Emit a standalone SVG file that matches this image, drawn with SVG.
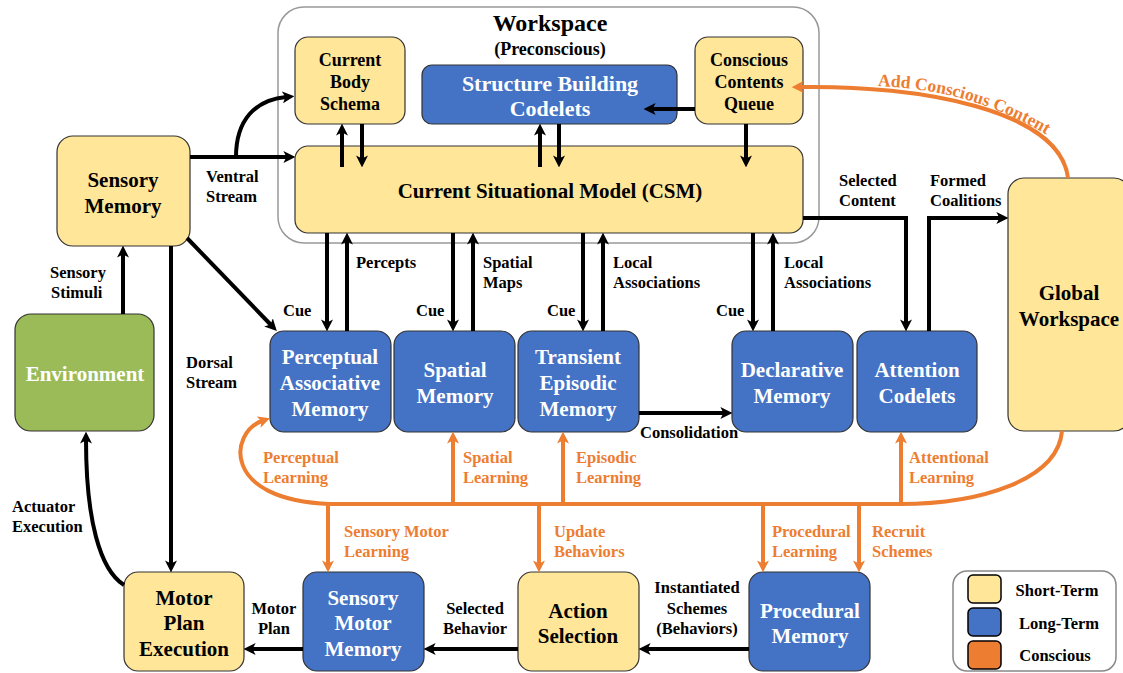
<svg xmlns="http://www.w3.org/2000/svg" width="1123" height="673" viewBox="0 0 1123 673">
<style>
.st{fill:#FFE699;stroke:#333;stroke-width:1.2}
.lt{fill:#4472C4;stroke:#333;stroke-width:1.2}
.en{fill:#9BBB59;stroke:#333;stroke-width:1.2}
.t{font-family:"Liberation Serif",serif;font-weight:bold;text-anchor:middle}
.nb{font-size:21px;fill:#000}
.nw{font-size:21px;fill:#fff}
.ns{font-size:18px;fill:#000}
.lb{font-family:"Liberation Serif",serif;font-weight:bold;font-size:16.5px;fill:#000}
.lo{font-family:"Liberation Serif",serif;font-weight:bold;font-size:16.5px;fill:#ED7D31}
.c{fill:none;stroke:#000;stroke-width:4;marker-end:url(#ab)}
.o{fill:none;stroke:#ED7D31;stroke-width:4;marker-end:url(#ao)}
</style>
<defs>
<marker id="ab" viewBox="0 0 10 10" refX="3" refY="5" markerWidth="12" markerHeight="12" markerUnits="userSpaceOnUse" orient="auto"><path d="M0,0 L10,5 L0,10 L2.5,5 z" fill="#000"/></marker>
<marker id="ao" viewBox="0 0 10 10" refX="3" refY="5" markerWidth="12" markerHeight="12" markerUnits="userSpaceOnUse" orient="auto"><path d="M0,0 L10,5 L0,10 L2.5,5 z" fill="#ED7D31"/></marker>
</defs>
<rect width="1123" height="673" fill="#fff"/>

<g id="workspace">
<rect x="278" y="7" width="541" height="236" rx="26" fill="none" stroke="#999" stroke-width="1.5"/>
<text class="t" x="550" y="31" font-size="24">Workspace</text>
<text class="t" x="550" y="55" font-size="18">(Preconscious)</text>
</g>

<g id="current-body-schema">
<rect class="st" x="295" y="37" width="110" height="87" rx="13"/>
<text class="t ns" x="350" y="66">Current</text>
<text class="t ns" x="350" y="88">Body</text>
<text class="t ns" x="350" y="110">Schema</text>
</g>
<g id="structure-building-codelets">
<rect class="lt" x="422" y="65" width="255" height="59" rx="10"/>
<text class="t" x="550" y="91" font-size="22" fill="#fff">Structure Building</text>
<text class="t" x="550" y="116" font-size="22" fill="#fff">Codelets</text>
</g>
<g id="conscious-contents-queue">
<rect class="st" x="695" y="37" width="108" height="87" rx="13"/>
<text class="t ns" x="749" y="66">Conscious</text>
<text class="t ns" x="749" y="88">Contents</text>
<text class="t ns" x="749" y="110">Queue</text>
</g>
<g id="csm">
<rect class="st" x="295" y="146" width="508" height="87" rx="13"/>
<text class="t nb" x="550" y="198">Current Situational Model (CSM)</text>
</g>
<g id="sensory-memory">
<rect class="st" x="57" y="136" width="133" height="110" rx="16"/>
<text class="t nb" x="123" y="187">Sensory</text>
<text class="t nb" x="123" y="213">Memory</text>
</g>
<g id="environment">
<rect class="en" x="15" y="314" width="139" height="117" rx="16"/>
<text class="t nw" x="85" y="381">Environment</text>
</g>
<g id="perceptual-associative-memory">
<rect class="lt" x="270" y="331" width="121" height="101" rx="14"/>
<text class="t nw" x="330" y="364">Perceptual</text>
<text class="t nw" x="330" y="390">Associative</text>
<text class="t nw" x="330" y="416">Memory</text>
</g>
<g id="spatial-memory">
<rect class="lt" x="394" y="331" width="121" height="101" rx="14"/>
<text class="t nw" x="455" y="377">Spatial</text>
<text class="t nw" x="455" y="403">Memory</text>
</g>
<g id="transient-episodic-memory">
<rect class="lt" x="518" y="331" width="121" height="101" rx="14"/>
<text class="t nw" x="578" y="364">Transient</text>
<text class="t nw" x="578" y="390">Episodic</text>
<text class="t nw" x="578" y="416">Memory</text>
</g>
<g id="declarative-memory">
<rect class="lt" x="732" y="331" width="121" height="101" rx="14"/>
<text class="t nw" x="792" y="377">Declarative</text>
<text class="t nw" x="792" y="403">Memory</text>
</g>
<g id="attention-codelets">
<rect class="lt" x="857" y="331" width="120" height="101" rx="14"/>
<text class="t nw" x="917" y="377">Attention</text>
<text class="t nw" x="917" y="403">Codelets</text>
</g>
<g id="global-workspace">
<rect class="st" x="1008" y="178" width="122" height="253" rx="16"/>
<text class="t nb" x="1069" y="300">Global</text>
<text class="t nb" x="1069" y="326">Workspace</text>
</g>
<g id="motor-plan-execution">
<rect class="st" x="124" y="572" width="120" height="99" rx="14"/>
<text class="t nb" x="184" y="605">Motor</text>
<text class="t nb" x="184" y="630">Plan</text>
<text class="t nb" x="184" y="656">Execution</text>
</g>
<g id="sensory-motor-memory">
<rect class="lt" x="303" y="572" width="121" height="99" rx="14"/>
<text class="t nw" x="363" y="605">Sensory</text>
<text class="t nw" x="363" y="630">Motor</text>
<text class="t nw" x="363" y="656">Memory</text>
</g>
<g id="action-selection">
<rect class="st" x="518" y="572" width="121" height="99" rx="14"/>
<text class="t nb" x="578" y="618">Action</text>
<text class="t nb" x="578" y="643">Selection</text>
</g>
<g id="procedural-memory">
<rect class="lt" x="749" y="572" width="121" height="99" rx="14"/>
<text class="t nw" x="810" y="618">Procedural</text>
<text class="t nw" x="810" y="643">Memory</text>
</g>

<g id="connectors">
<path class="c" d="M190,157 L287,157"/>
<path class="c" d="M236,157 C236,120 255,100 286,97"/>
<path class="c" d="M342,167 L342,132"/>
<path class="c" d="M362,124 L362,159"/>
<path class="c" d="M540,167 L540,132"/>
<path class="c" d="M559,124 L559,159"/>
<path class="c" d="M746,124 L746,159"/>
<path class="c" d="M695,109 L652,109"/>
<path class="c" d="M187,238 L271,325"/>
<path class="c" d="M171,246 L171,564"/>
<path class="c" d="M123,314 L123,254"/>
<path class="c" d="M124,585 C100,570 86,520 86,440"/>
<path class="c" d="M327,233 L327,323"/>
<path class="c" d="M347,331 L347,241"/>
<path class="c" d="M453,233 L453,323"/>
<path class="c" d="M473,331 L473,241"/>
<path class="c" d="M583,233 L583,323"/>
<path class="c" d="M603,331 L603,241"/>
<path class="c" d="M753,233 L753,323"/>
<path class="c" d="M773,331 L773,241"/>
<path class="c" d="M803,218 L906,218 L906,323"/>
<path class="c" d="M929,331 L929,218 L1000,218"/>
<path class="c" d="M639,413 L724,413"/>
<path class="c" d="M303,649 L252,649"/>
<path class="c" d="M518,649 L432,649"/>
<path class="c" d="M749,649 L647,649"/>
<path class="o" d="M1068,178 C1060,110 920,85 800,87"/>
<path class="o" d="M1062,431 C1058,480 980,504 900,504 L330,504 C220,500 230,432 262,421"/>
<path class="o" d="M453,504 L453,440"/>
<path class="o" d="M563,504 L563,440"/>
<path class="o" d="M901,504 L901,440"/>
<path class="o" d="M328,504 L328,564"/>
<path class="o" d="M539,504 L539,564"/>
<path class="o" d="M763,504 L763,564"/>
<path class="o" d="M859,504 L859,564"/>
</g>

<g id="labels">
<text class="lb" x="206" y="182">Ventral</text>
<text class="lb" x="206" y="202">Stream</text>
<text class="lb" x="50" y="278">Sensory</text>
<text class="lb" x="51" y="298">Stimuli</text>
<text class="lb" x="186" y="368">Dorsal</text>
<text class="lb" x="186" y="388">Stream</text>
<text class="lb" x="12" y="512">Actuator</text>
<text class="lb" x="12" y="532">Execution</text>
<text class="lb" x="356" y="268">Percepts</text>
<text class="lb" x="283" y="316">Cue</text>
<text class="lb" x="416" y="316">Cue</text>
<text class="lb" x="547" y="316">Cue</text>
<text class="lb" x="716" y="316">Cue</text>
<text class="lb" x="483" y="268">Spatial</text>
<text class="lb" x="483" y="288">Maps</text>
<text class="lb" x="613" y="268">Local</text>
<text class="lb" x="613" y="288">Associations</text>
<text class="lb" x="784" y="268">Local</text>
<text class="lb" x="784" y="288">Associations</text>
<text class="lb" x="839" y="186">Selected</text>
<text class="lb" x="839" y="206">Content</text>
<text class="lb" x="930" y="186">Formed</text>
<text class="lb" x="930" y="206">Coalitions</text>
<text class="lb" x="640" y="438">Consolidation</text>
<text class="lb" x="274" y="614" text-anchor="middle">Motor</text>
<text class="lb" x="274" y="634" text-anchor="middle">Plan</text>
<text class="lb" x="475" y="614" text-anchor="middle">Selected</text>
<text class="lb" x="475" y="634" text-anchor="middle">Behavior</text>
<text class="lb" x="697" y="593" text-anchor="middle">Instantiated</text>
<text class="lb" x="697" y="614" text-anchor="middle">Schemes</text>
<text class="lb" x="697" y="634" text-anchor="middle">(Behaviors)</text>
<path id="addpath" d="M878,86 C930,88 1000,100 1070,150" fill="none"/>
<text class="lo" style="font-size:17.5px"><textPath href="#addpath">Add Conscious Content</textPath></text>
<text class="lo" x="263" y="463">Perceptual</text>
<text class="lo" x="263" y="483">Learning</text>
<text class="lo" x="463" y="463">Spatial</text>
<text class="lo" x="463" y="483">Learning</text>
<text class="lo" x="576" y="463">Episodic</text>
<text class="lo" x="576" y="483">Learning</text>
<text class="lo" x="909" y="463">Attentional</text>
<text class="lo" x="909" y="483">Learning</text>
<text class="lo" x="344" y="537">Sensory Motor</text>
<text class="lo" x="344" y="557">Learning</text>
<text class="lo" x="554" y="537">Update</text>
<text class="lo" x="554" y="557">Behaviors</text>
<text class="lo" x="772" y="537">Procedural</text>
<text class="lo" x="772" y="557">Learning</text>
<text class="lo" x="872" y="537">Recruit</text>
<text class="lo" x="872" y="557">Schemes</text>
</g>

<g id="legend">
<rect x="953" y="571" width="163" height="100" rx="14" fill="#fff" stroke="#888" stroke-width="1.5"/>
<rect x="968" y="575" width="33" height="28" rx="5" fill="#FFE699" stroke="#000" stroke-width="1.5"/>
<rect x="968" y="608" width="33" height="28" rx="5" fill="#4472C4" stroke="#000" stroke-width="1.5"/>
<rect x="968" y="641" width="33" height="28" rx="5" fill="#ED7D31" stroke="#000" stroke-width="1.5"/>
<text class="lb" x="1057" y="596" text-anchor="middle">Short-Term</text>
<text class="lb" x="1059" y="629" text-anchor="middle">Long-Term</text>
<text class="lb" x="1055" y="661" text-anchor="middle">Conscious</text>
</g>
</svg>
